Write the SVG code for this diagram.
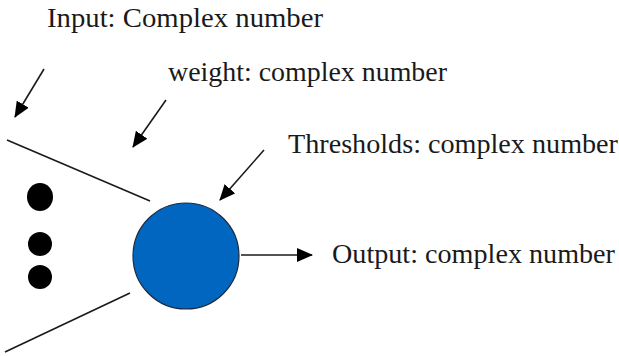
<svg xmlns="http://www.w3.org/2000/svg" width="619" height="356" viewBox="0 0 619 356">
<style>
.t{font-family:"Liberation Serif","Times New Roman",serif;font-size:28px;fill:#1a1a1a}
.l{stroke:#1a1a1a;stroke-width:1.6;fill:none}
.dot{fill:#000}
</style>
<defs>
<marker id="ah" markerWidth="16" markerHeight="14" refX="15" refY="7" orient="auto" markerUnits="userSpaceOnUse">
<path d="M0,0 L16,7 L0,14 Z" fill="#000"/>
</marker>
</defs>
<rect width="619" height="356" fill="#fff"/>
<g id="neuron">
<circle cx="186" cy="256" r="53" fill="#0066bf" stroke="#1a2a40" stroke-width="1.2"/>
</g>
<g id="dots">
<ellipse class="dot" cx="40" cy="197" rx="13" ry="14"/>
<circle class="dot" cx="40" cy="244" r="12"/>
<circle class="dot" cx="40" cy="277" r="12"/>
</g>
<g id="labels">
<text class="t" x="47" y="27" textLength="276" lengthAdjust="spacingAndGlyphs">Input: Complex number</text>
<text class="t" x="168" y="81" textLength="279" lengthAdjust="spacingAndGlyphs">weight: complex number</text>
<text class="t" x="288" y="153" textLength="330" lengthAdjust="spacingAndGlyphs">Thresholds: complex number</text>
<text class="t" x="332" y="263" textLength="283" lengthAdjust="spacingAndGlyphs">Output: complex number</text>
</g>
<g id="connectors">
<line class="l" x1="7" y1="140" x2="150" y2="201"/>
<line class="l" x1="130" y1="293" x2="5" y2="352"/>
<line class="l" x1="241" y1="255" x2="312" y2="255" marker-end="url(#ah)"/>
<line class="l" x1="44" y1="69" x2="15" y2="117" marker-end="url(#ah)"/>
<line class="l" x1="166" y1="100" x2="133" y2="147" marker-end="url(#ah)"/>
<line class="l" x1="264" y1="150" x2="220" y2="200" marker-end="url(#ah)"/>
</g>
</svg>
